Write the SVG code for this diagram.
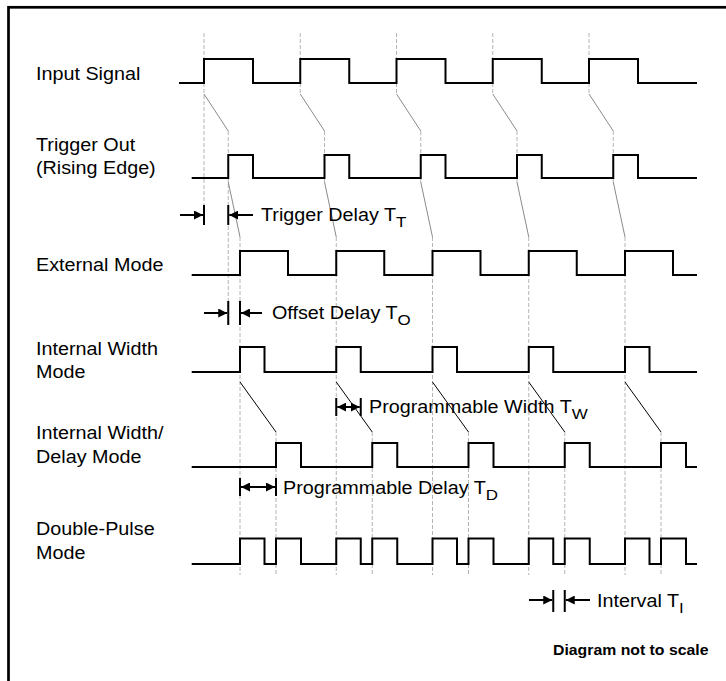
<svg xmlns="http://www.w3.org/2000/svg" width="726" height="681" viewBox="0 0 726 681">
<style>
.lbl{font-family:"Liberation Sans",Arial,sans-serif;font-size:17.5px;fill:#000}
.sub{font-size:15px}
.note{font-family:"Liberation Sans",Arial,sans-serif;font-size:14px;font-weight:bold;fill:#000}
.sig{fill:none;stroke:#000;stroke-width:2;stroke-linejoin:miter}
.dash{fill:none;stroke:#b4b4b4;stroke-width:1;stroke-dasharray:4,2}
.diag{fill:none;stroke:#8a8a8a;stroke-width:1}
.diagk{fill:none;stroke:#000;stroke-width:1}
.bar{stroke:#000;stroke-width:2}
.arr{stroke:#000;stroke-width:2;fill:none}
</style>
<defs>
<marker id="ah" markerUnits="userSpaceOnUse" markerWidth="9" markerHeight="9" refX="9" refY="4.5" orient="auto-start-reverse">
<path d="M0,0 L9,4.5 L0,9 z" fill="#000"/>
</marker>
</defs>
<rect x="8.5" y="7.3" width="900" height="900" fill="none" stroke="#000" stroke-width="2.7"/>

<g id="connectors">
<g id="guides-dashed">
<path class="dash" d="M204,33V59 M300.25,33V59 M396.5,33V59 M492.75,33V59 M589,33V59"/>
<path class="dash" d="M204,83V225 M300.25,83V94 M396.5,83V94 M492.75,83V94 M589,83V94"/>
<path class="dash" d="M228.25,131V155 M324.5,131V155 M420.75,131V155 M517,131V155 M613.25,131V155"/>
<path class="dash" d="M228.25,178V325 M324.5,178V182 M420.75,178V182 M517,178V182 M613.25,178V182"/>
<path class="dash" d="M240,237V575 M336.25,237V575 M432.5,237V575 M528.75,237V575 M625,237V575"/>
<path class="dash" d="M276,432V575 M372.25,432V575 M468.5,432V575 M564.75,432V575 M661,432V575"/>
</g>
<g id="guides-diagonal">
<path class="diag" d="M204,94L228.25,131 M300.25,94L324.5,131 M396.5,94L420.75,131 M492.75,94L517,131 M589,94L613.25,131"/>
<path class="diag" d="M228.25,182L240,237 M324.5,182L336.25,237 M420.75,182L432.5,237 M517,182L528.75,237 M613.25,182L625,237"/>
<path class="diagk" d="M240,382L276,432 M336.25,382L372.25,432 M432.5,382L468.5,432 M528.75,382L564.75,432 M625,382L661,432"/>
</g>
</g>

<g id="signals">
<path id="input-signal" class="sig" d="M179,83H204V59H253V83H300.25V59H349.25V83H396.5V59H445.5V83H492.75V59H541.75V83H589V59H638V83H697"/>
<path id="trigger-out" class="sig" d="M191.7,178H228.25V155H253V178H324.5V155H349.25V178H420.75V155H445.5V178H517V155H541.75V178H613.25V155H638V178H697"/>
<path id="external-mode" class="sig" d="M191.7,275H240V251H288V275H336.25V251H384.25V275H432.5V251H480.5V275H528.75V251H576.75V275H625V251H673V275H697"/>
<path id="internal-width" class="sig" d="M191.7,372H240V347H264.5V372H336.25V347H360.75V372H432.5V347H457V372H528.75V347H553.25V372H625V347H649.5V372H697"/>
<path id="internal-width-delay" class="sig" d="M191.7,467H276V443H301V467H372.25V443H397.25V467H468.5V443H493.5V467H564.75V443H589.75V467H661V443H686V467H697"/>
<path id="double-pulse" class="sig" d="M191.7,564H240V538.5H264.5V564H276V538.5H301V564H336.25V538.5H360.75V564H372.25V538.5H397.25V564H432.5V538.5H457V564H468.5V538.5H493.5V564H528.75V538.5H553.25V564H564.75V538.5H589.75V564H625V538.5H649.5V564H661V538.5H686V564H697"/>
</g>

<g id="labels">
<text class="lbl" transform="translate(36,80) scale(1.13,1)">Input Signal</text>
<text class="lbl" transform="translate(36,151) scale(1.13,1)">Trigger Out</text>
<text class="lbl" transform="translate(36,174) scale(1.13,1)">(Rising Edge)</text>
<text class="lbl" transform="translate(36,271) scale(1.13,1)">External Mode</text>
<text class="lbl" transform="translate(36,355) scale(1.13,1)">Internal Width</text>
<text class="lbl" transform="translate(36,378) scale(1.13,1)">Mode</text>
<text class="lbl" transform="translate(36,439) scale(1.13,1)">Internal Width/</text>
<text class="lbl" transform="translate(36,463) scale(1.13,1)">Delay Mode</text>
<text class="lbl" transform="translate(36,535) scale(1.13,1)">Double-Pulse</text>
<text class="lbl" transform="translate(36,559) scale(1.13,1)">Mode</text>
</g>

<g id="dim-trigger-delay">
<path class="bar" d="M204,205V225 M228.25,205V225"/>
<line class="arr" x1="180" y1="215" x2="203" y2="215" marker-end="url(#ah)"/>
<line class="arr" x1="253" y1="215" x2="229.25" y2="215" marker-end="url(#ah)"/>
<text class="lbl" transform="translate(261,221) scale(1.13,1)">Trigger Delay T<tspan class="sub" dy="6">T</tspan></text>
</g>
<g id="dim-offset-delay">
<path class="bar" d="M228.25,301V325 M240,301V325"/>
<line class="arr" x1="204" y1="313" x2="227.25" y2="313" marker-end="url(#ah)"/>
<line class="arr" x1="262" y1="313" x2="241" y2="313" marker-end="url(#ah)"/>
<text class="lbl" transform="translate(272,319) scale(1.13,1)">Offset Delay T<tspan class="sub" dy="6">O</tspan></text>
</g>
<g id="dim-prog-width">
<path class="bar" d="M336.25,398V416 M360.75,398V416"/>
<line class="arr" x1="337.25" y1="407" x2="359.75" y2="407" marker-start="url(#ah)" marker-end="url(#ah)"/>
<text class="lbl" transform="translate(369,413) scale(1.13,1)">Programmable Width T<tspan class="sub" dy="6">W</tspan></text>
</g>
<g id="dim-prog-delay">
<path class="bar" d="M240,478V496 M276,478V496"/>
<line class="arr" x1="241" y1="487" x2="275" y2="487" marker-start="url(#ah)" marker-end="url(#ah)"/>
<text class="lbl" transform="translate(283,494) scale(1.13,1)">Programmable Delay T<tspan class="sub" dy="6">D</tspan></text>
</g>
<g id="dim-interval">
<path class="bar" d="M553.25,590V612 M564.75,590V612"/>
<line class="arr" x1="529" y1="600" x2="552.25" y2="600" marker-end="url(#ah)"/>
<line class="arr" x1="590" y1="600" x2="565.75" y2="600" marker-end="url(#ah)"/>
<text class="lbl" transform="translate(597,607) scale(1.13,1)">Interval T<tspan class="sub" dy="6">I</tspan></text>
</g>
<text class="note" transform="translate(553,655) scale(1.13,1)">Diagram not to scale</text>
</svg>
